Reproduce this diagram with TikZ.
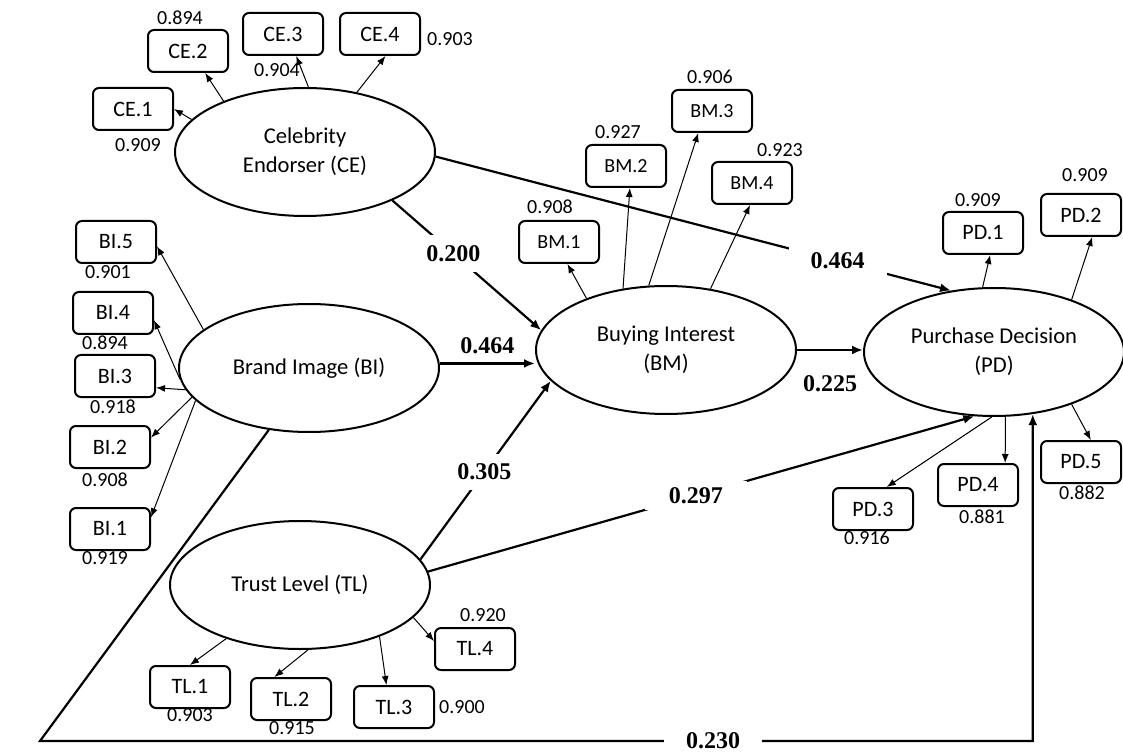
\documentclass[tikz,border=0pt]{standalone}
\usepackage{fontspec}
\setmainfont{Carlito}
\newfontfamily\coeffont{Liberation Serif}
\usetikzlibrary{shapes.geometric, arrows.meta}

\begin{document}
\begin{tikzpicture}[x=0.5pt, y=-0.5pt,
    lv/.style={draw, ellipse, line width=1pt, minimum width=130pt, minimum height=64pt, inner sep=0pt, align=center, font=\fontsize{11.3}{14.5}\selectfont},
    mv/.style={draw, rounded corners=3pt, line width=1pt, minimum width=40pt, minimum height=21pt, inner sep=0pt, font=\fontsize{11}{13}\selectfont},
    ldg/.style={inner sep=0pt, font=\fontsize{10}{12}\selectfont},
    coef/.style={fill=white, inner sep=3pt, font=\coeffont\bfseries\fontsize{12}{14}\selectfont},
    ind/.style={line width=0.5pt, -{Latex[length=4.5pt, width=3.5pt]}},
    rel/.style={line width=1.1pt, -{Latex[length=5.5pt, width=4.5pt]}}]
    \useasboundingbox (0,0) rectangle (1123,753);

    % latent variables
    \node[lv] (ce) at (305,152) {Celebrity\\Endorser (CE)};
    \node[lv] (bi) at (309,368) {Brand Image (BI)};
    \node[lv] (bm) at (666,350) {Buying Interest\\(BM)};
    \node[lv] (pd) at (994,352) {Purchase Decision\\(PD)};
    \node[lv] (tl) at (300,585) {Trust Level (TL)};

    % indicators
    \node[mv] (ce1) at (133,109) {CE.1};
    \node[mv] (ce2) at (188,51) {CE.2};
    \node[mv] (ce3) at (283,34) {CE.3};
    \node[mv] (ce4) at (380,34) {CE.4};
    \node[mv] (bi5) at (116,242) {BI.5};
    \node[mv] (bi4) at (113,313) {BI.4};
    \node[mv] (bi3) at (115,376) {BI.3};
    \node[mv] (bi2) at (110,447) {BI.2};
    \node[mv] (bi1) at (110,529) {BI.1};
    \node[mv, font=\fontsize{10}{12}\selectfont] (bm1) at (559,242) {BM.1};
    \node[mv, font=\fontsize{10}{12}\selectfont] (bm2) at (626,166) {BM.2};
    \node[mv, font=\fontsize{10}{12}\selectfont] (bm3) at (712,111) {BM.3};
    \node[mv, font=\fontsize{10}{12}\selectfont] (bm4) at (752,183) {BM.4};
    \node[mv] (pd1) at (983,233) {PD.1};
    \node[mv] (pd2) at (1081,215) {PD.2};
    \node[mv] (pd3) at (873,509) {PD.3};
    \node[mv] (pd4) at (978,485) {PD.4};
    \node[mv] (pd5) at (1081,462) {PD.5};
    \node[mv] (tl1) at (190,687) {TL.1};
    \node[mv] (tl2) at (291,699) {TL.2};
    \node[mv] (tl3) at (394,707) {TL.3};
    \node[mv] (tl4) at (475,649) {TL.4};

    % outer loadings
    \node[ldg] at (138,145) {0.909};
    \node[ldg] at (180,18) {0.894};
    \node[ldg] at (277,70) {0.904};
    \node[ldg] at (450,39) {0.903};
    \node[ldg] at (108,272) {0.901};
    \node[ldg] at (105,343) {0.894};
    \node[ldg] at (113,407) {0.918};
    \node[ldg] at (105,480) {0.908};
    \node[ldg] at (105,558) {0.919};
    \node[ldg] at (550,207) {0.908};
    \node[ldg] at (618,132) {0.927};
    \node[ldg] at (710,77) {0.906};
    \node[ldg] at (780,150) {0.923};
    \node[ldg] at (978,200) {0.909};
    \node[ldg] at (1085,175) {0.909};
    \node[ldg] at (867,538) {0.916};
    \node[ldg] at (982,517) {0.881};
    \node[ldg] at (1082,493) {0.882};
    \node[ldg] at (190,715) {0.903};
    \node[ldg] at (292,728) {0.915};
    \node[ldg] at (462,707) {0.900};
    \node[ldg] at (483,615) {0.920};

    \draw[ind] (ce.164) -- (ce1.east);
    \draw[ind] (ce.148) -- (ce2.-52);
    \draw[ind] (ce.87) -- (ce3.-59);
    \draw[ind] (ce.49) -- (ce4.-76);
    \draw[ind] (bi.160) -- (bi5.-6);
    \draw[ind] (bi.185) -- (bi4.-10);
    \draw[ind] (bi.190) -- (bi3.-16);
    \draw[ind] (bi.194) -- (bi2.13);
    \draw[ind] (bi.196) -- (bi1.16);
    \draw[ind] (bm.147) -- (bm1.-69);
    \draw[ind] (bm.125) -- (bm2.-80);
    \draw[ind] (bm.105) -- (bm3.238);
    \draw[ind] (bm.54) -- (bm4.265);
    \draw[ind] (pd.100) -- (pd1.-72);
    \draw[ind] (pd.34) -- (pd2.-63);
    \draw[ind] (pd.268) -- (pd3.58);
    \draw[ind] (pd.280) -- (pd4.39);
    \draw[ind] (pd.326) -- (pd5.66);
    \draw[ind] (tl.216) -- (tl1.north);
    \draw[ind] (tl.277) -- (tl2.127);
    \draw[ind] (tl.327) -- (tl3.109);
    \draw[ind] (tl.344) -- (tl4.169);

    % path coefficients
    \coordinate (crn) at (40,741);
    \draw[rel] (ce.-2) -- node[coef, pos=0.78, inner xsep=11pt] {0.464} (pd.125);
    \draw[rel] (ce.-29) -- node[coef, pos=0.41, inner ysep=5pt] {0.200} (bm.171);
    \draw[rel] (bi.2) -- node[coef, above=1pt, fill=none] {0.464} (bi.2 -| bm.west);
    \draw[rel] (bm.east) -- node[coef, below=9pt, fill=none] {0.225} (bm.east -| pd.west);
    \draw[rel] (tl.12) -- node[coef, pos=0.49, inner ysep=5pt] {0.305} (bm.195);
    \draw[rel] (tl.6) -- node[coef, pos=0.49, inner xsep=12pt] {0.297} (pd.253);
    \draw[rel] (bi.237) -- (crn) -| node[coef, pos=0.339, inner xsep=11pt] {0.230} (pd.302);
\end{tikzpicture}
\end{document}
